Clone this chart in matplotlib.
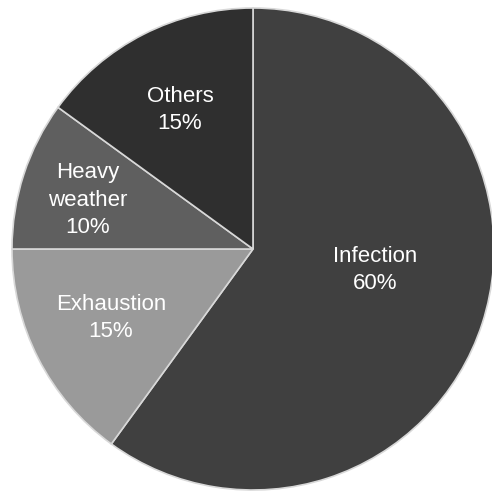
import matplotlib.pyplot as plt

# Causes and their share (%)
causes = ["Infection", "Exhaustion", "Heavy\nweather", "Others"]
shares = [60, 15, 10, 15]
colors = ["#404040", "#9a9a9a", "#5f5f5f", "#2f2f2f"]

# Label anchor points in pixel coordinates of the canvas
label_xy = [(375, 227), (111, 179), (88, 297), (180, 387)]

W, H = 492, 497
fig = plt.figure(figsize=(W / 100, H / 100), dpi=100)
ax = fig.add_axes([0, 0, 1, 1])

ax.pie(shares, colors=colors, startangle=90, counterclock=False,
       center=(253, 248), radius=241,
       wedgeprops=dict(edgecolor="#d8d8d8", linewidth=1.2))

ax.set_xlim(0, W)
ax.set_ylim(0, H)
ax.set_aspect("equal")
ax.axis("off")

for name, val, (x, y) in zip(causes, shares, label_xy):
    ax.text(x, y, f"{name}\n{val}%", ha="center", va="center",
            color="white", fontsize=16, family="Liberation Sans",
            linespacing=1.38)

fig.savefig("out.png", dpi=100, facecolor="white")
